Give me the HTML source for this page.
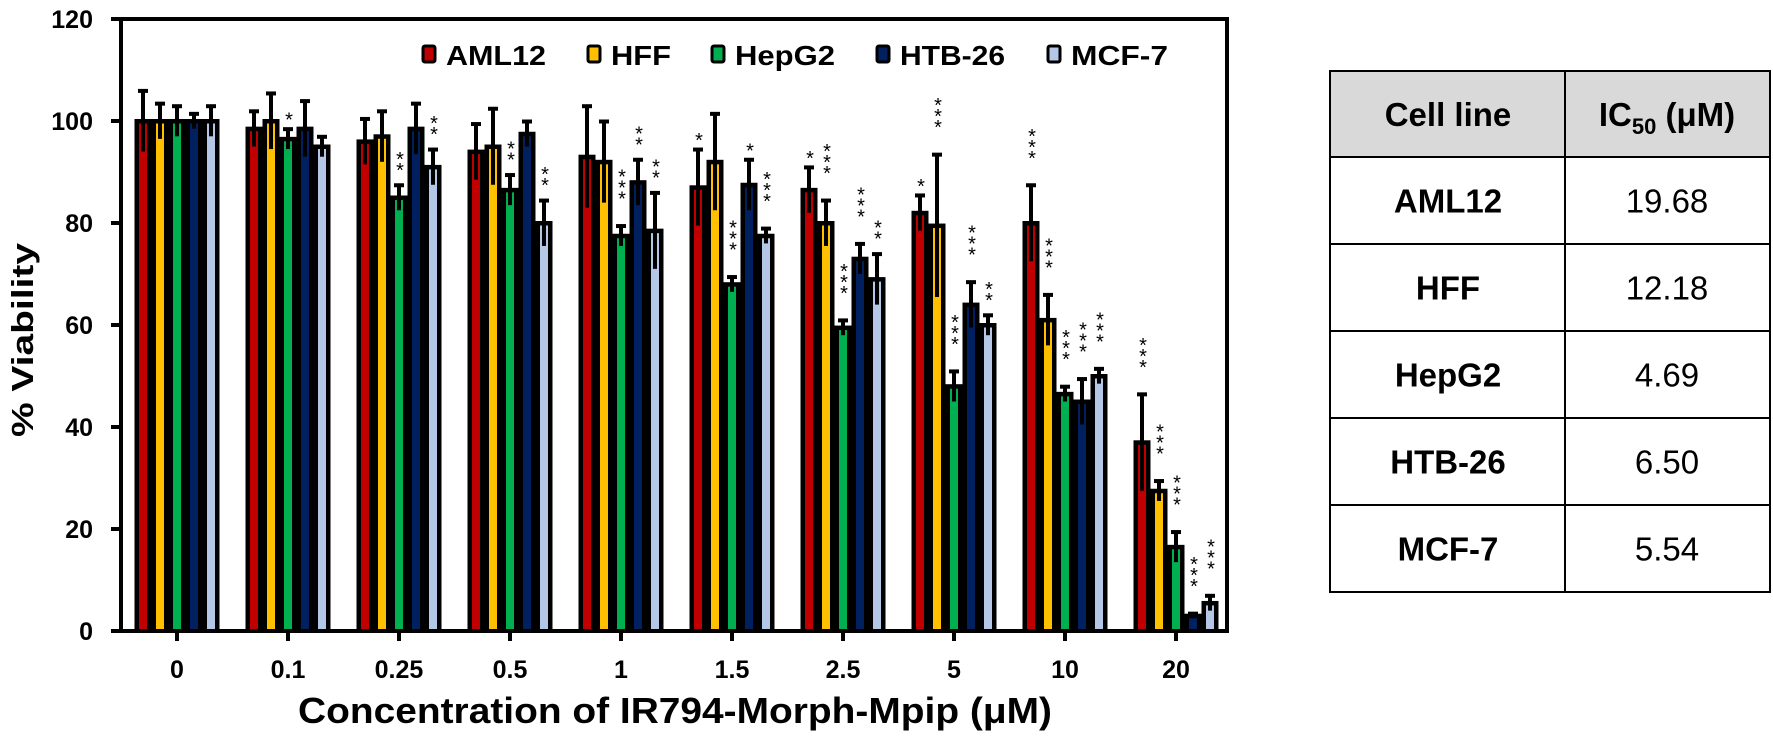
<!DOCTYPE html>
<html><head><meta charset="utf-8"><style>
html,body{margin:0;padding:0;background:#fff;width:1773px;height:741px;overflow:hidden}
svg{display:block;font-family:"Liberation Sans",Arial,sans-serif}
</style></head><body>
<svg id="s" width="1773" height="741" viewBox="0 0 1773 741" xmlns="http://www.w3.org/2000/svg"></svg>
<script>
const S=document.getElementById('s');let h='';
const Y=v=>631-5.1*v;
const cols=['#c00000','#ffc000','#00b050','#002060','#b4c7e7'];
const data=[
[[100,6],[100,3.5],[100,3],[100,1.5],[100,3]],
[[98.5,3.5],[100,5.5],[96.5,2],[98.5,5.5],[95,2]],
[[96,4.5],[97,5],[85,2.5],[98.5,5],[91,3.5]],
[[94,5.5],[95,7.5],[86.5,3],[97.5,2.5],[80,4.5]],
[[93,10],[92,8],[77.5,2],[88,4.5],[78.5,7.5]],
[[87,7.5],[92,9.5],[68,1.5],[87.5,5],[77.5,1.5]],
[[86.5,4.5],[80,4.5],[59.5,1.5],[73,3],[69,5]],
[[82,3.5],[79.5,14],[48,3],[64,4.5],[60,2]],
[[80,7.5],[61,5],[46.5,1.5],[45,4.5],[50,1.5]],
[[37,9.5],[27.5,2],[16.5,3],[3,0.5],[5.5,1.5]]];
const stars=[[0,0,0,0,0],[0,0,1,0,0],[0,0,2,0,2],[0,0,2,0,2],[0,0,3,2,2],[1,0,3,1,3],[1,3,3,3,2],[1,3,3,3,2],[3,3,3,3,3],[3,3,3,3,3]];
const labs=['0','0.1','0.25','0.5','1','1.5','2.5','5','10','20'];
// y ticks
for(let v=0;v<=120;v+=20){const y=Y(v);h+=`<line x1="111" y1="${y}" x2="121" y2="${y}" stroke="#000" stroke-width="4"/>`;
h+=`<text x="93" y="${y+9}" font-size="25" font-weight="bold" text-anchor="end">${v}</text>`;}
for(let i=0;i<10;i++){const cx=177+111*i;
 h+=`<line x1="${cx}" y1="631" x2="${cx}" y2="641" stroke="#000" stroke-width="4"/>`;
 h+=`<text x="${cx}" y="678" font-size="25" font-weight="bold" text-anchor="middle">${labs[i]}</text>`;
 for(let j=0;j<5;j++){const [m,sd]=data[i][j];const x=cx-42.5+17*j;const yt=Y(m);const bc=x+8.5;
  h+=`<rect x="${x}" y="${yt-2}" width="17" height="${631-yt+2}" fill="#000"/>`;
  h+=`<rect x="${x+4.5}" y="${yt+2.5}" width="8" height="${631-yt-2.5}" fill="${cols[j]}"/>`;
  const e1=Y(m+sd),e0=Y(m-sd);
  h+=`<line x1="${bc}" y1="${e1}" x2="${bc}" y2="${Math.min(e0,629)}" stroke="#000" stroke-width="4"/>`;
  h+=`<rect x="${bc-5}" y="${e1-1.5}" width="10" height="4" fill="#000"/>`;
  const n=stars[i][j];if(n){const gap=n==1?14:(n==2?20:32);let c=e1-gap;
   for(let k=0;k<n;k++){h+=`<text x="${bc+1}" y="${c-11*k+12}" font-size="20" text-anchor="middle">*</text>`;}}
 }}
// frame
h+=`<path d="M121 19 H1227 V631 H119" fill="none" stroke="#000" stroke-width="4"/>`;
h+=`<line x1="121" y1="17" x2="121" y2="633" stroke="#000" stroke-width="4"/>`;
// legend
const ln=['AML12','HFF','HepG2','HTB-26','MCF-7'],lx=[423,588,712,877,1048],tl=[100,60,100,105,97];
for(let j=0;j<5;j++){h+=`<rect x="${lx[j]}" y="46" width="12" height="16" fill="${cols[j]}" stroke="#000" stroke-width="3" rx="2"/>`;
 h+=`<text x="${lx[j]+23}" y="65" font-size="28" font-weight="bold" textLength="${tl[j]}" lengthAdjust="spacingAndGlyphs">${ln[j]}</text>`;}
h+=`<text x="675" y="723" font-size="36" font-weight="bold" text-anchor="middle" textLength="754" lengthAdjust="spacingAndGlyphs">Concentration of IR794-Morph-Mpip (μM)</text>`;
h+=`<text transform="translate(33,340) rotate(-90)" font-size="31" font-weight="bold" text-anchor="middle" textLength="194" lengthAdjust="spacingAndGlyphs">% Viability</text>`;
// table
h+=`<rect x="1330" y="71" width="440" height="86" fill="#d9d9d9"/>`;
const rows=[71,157,244,331,418,505,592];
rows.forEach(r=>h+=`<line x1="1329" y1="${r}" x2="1771" y2="${r}" stroke="#000" stroke-width="2"/>`);
[1330,1565,1770].forEach(x=>h+=`<line x1="${x}" y1="70" x2="${x}" y2="593" stroke="#000" stroke-width="2"/>`);
h+=`<text x="1448" y="126" font-size="33" font-weight="bold" text-anchor="middle">Cell line</text>`;
h+=`<text x="1667" y="126" font-size="33" font-weight="bold" text-anchor="middle">IC<tspan font-size="22" dy="8">50</tspan><tspan dy="-8"> (μM)</tspan></text>`;
const tn=['AML12','HFF','HepG2','HTB-26','MCF-7'],tv=['19.68','12.18','4.69','6.50','5.54'];
for(let k=0;k<5;k++){const c=(rows[k+1]+rows[k+2])/2+12;
 h+=`<text x="1448" y="${c}" font-size="33" font-weight="bold" text-anchor="middle">${tn[k]}</text>`;
 h+=`<text x="1667" y="${c}" font-size="33" text-anchor="middle">${tv[k]}</text>`;}
S.innerHTML=h;
</script>
</body></html>
